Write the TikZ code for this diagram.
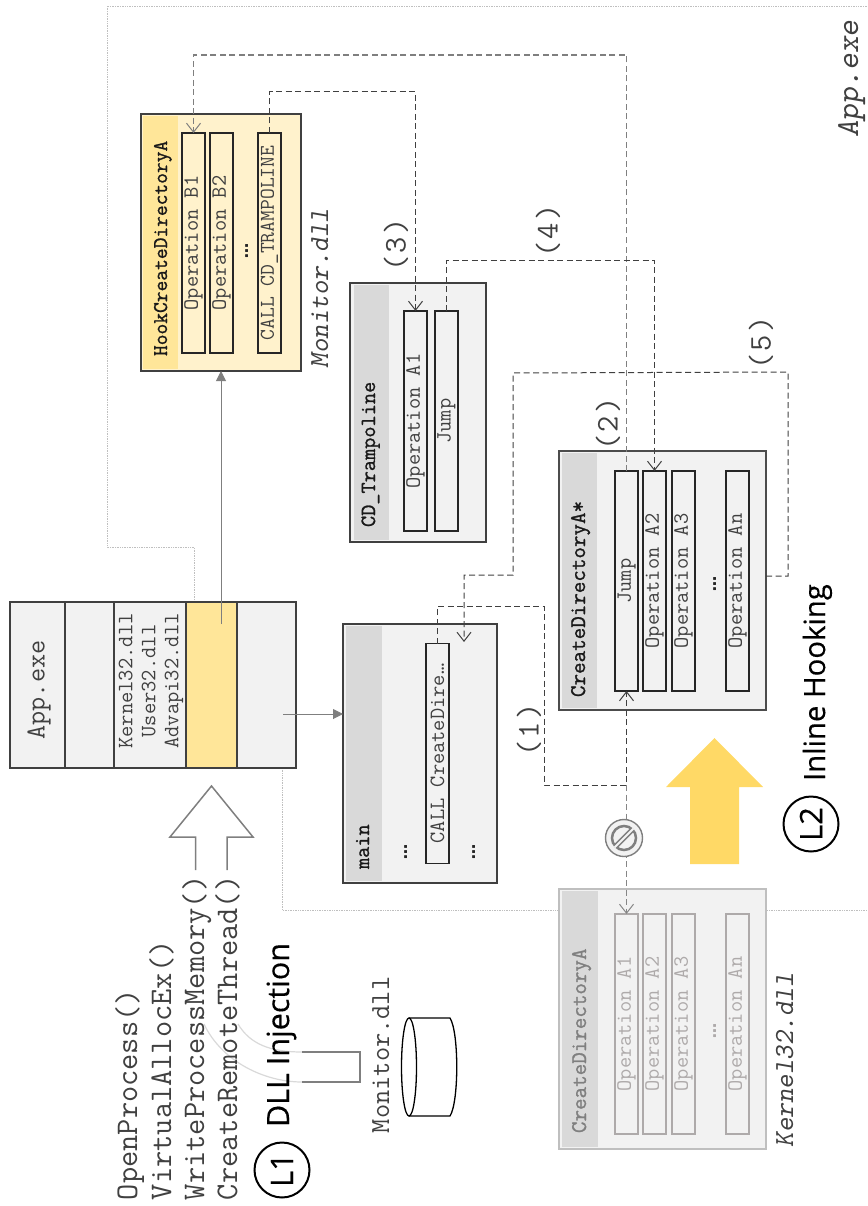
\documentclass[tikz,border=0pt]{standalone}
\usepackage{fontspec}
\usetikzlibrary{arrows.meta,calc}
\setmainfont{Open Sans}
\newfontfamily\headfont[FakeBold=0.35]{Open Sans}
\newfontfamily\titlemono[FakeBold=1.1]{Latin Modern Mono}
\definecolor{panelgrey}{HTML}{F2F2F2}
\definecolor{headgrey}{HTML}{D9D9D9}
\definecolor{edgedark}{HTML}{404040}
\definecolor{edgelight}{HTML}{BFBFBF}
\definecolor{oplight}{HTML}{AEAAAA}
\definecolor{yelloworig}{HTML}{FFE699}
\definecolor{yellowpale}{HTML}{FFF2CC}
\definecolor{yellowstrong}{HTML}{FFD966}
\definecolor{monotext}{HTML}{404040}
\definecolor{connectorgrey}{HTML}{7F7F7F}
\tikzset{
  x=1pt,y=-1pt,
  plain/.style={inner sep=0pt,outer sep=0pt},
  vtext/.style={plain,rotate=90},
  panel/.style={plain,rotate=90,draw=edgedark,line width=1.5pt,fill=panelgrey},
  panelfaint/.style={panel,draw=edgelight},
  headband/.style={plain,rotate=90,fill=headgrey},
  opbox/.style={plain,rotate=90,draw=black!85,line width=1.4pt,fill=panelgrey,minimum width=220pt,minimum height=23pt,text=monotext,font=\ttfamily\fontsize{21.8}{21.8}\selectfont},
  opfaint/.style={opbox,draw=oplight,text=oplight},
  segment/.style={plain,draw=edgedark,line width=1.4pt,fill=panelgrey},
  title/.style={vtext,anchor=base west,font=\titlemono\fontsize{21.7}{21.7}\selectfont,text=black!90},
  api/.style={vtext,anchor=base west,font=\ttfamily\fontsize{31.5}{31.5}\selectfont,text=edgedark},
  modname/.style={vtext,anchor=base west,font=\ttfamily\slshape\fontsize{27.6}{27.6}\selectfont,text=edgedark},
  steplabel/.style={vtext,font=\ttfamily\fontsize{31.5}{31.5}\selectfont,text=edgedark},
  heading/.style={vtext,anchor=base west,font=\headfont\fontsize{30.5}{30.5}\selectfont,text=black},
  badge/.style={plain,rotate=90,circle,draw=black,line width=2pt,minimum size=55pt,font=\headfont\fontsize{31}{31}\selectfont},
  dots/.style={vtext,font=\sffamily\bfseries\fontsize{22}{22}\selectfont,text=black!85},
  flow/.style={draw=edgedark,line width=1pt,dash pattern=on 6pt off 3.5pt},
  flowgrey/.style={draw=connectorgrey,line width=1.4pt,dash pattern=on 6pt off 3.5pt},
  flowfaint/.style={draw=edgelight!70!black,line width=1pt,dash pattern=on 6pt off 3.5pt},
  openhead/.style={-{Straight Barb[length=9pt,width=14pt,line width=1pt]}},
  feed/.style={draw=connectorgrey,line width=1pt,-{Triangle[length=10pt,width=10pt]}},
  boundary/.style={draw=edgelight,line width=.7pt,densely dotted},
}
\begin{document}
\begin{tikzpicture}
\path[use as bounding box] (0,0) rectangle (867,1206);

% process boundary
\draw[boundary] (867,6) -- (107,6) -- (107,547) -- (194,547) -- (194,602);
\draw[boundary] (282,768) -- (282,910) -- (867,910);

% App.exe image
\node[segment,minimum width=55pt,minimum height=166pt] (segA) at (37.5,685) {};
\node[segment,minimum width=49pt,minimum height=166pt] (segB) at (89.5,685) {};
\node[segment,minimum width=72pt,minimum height=166pt] (segC) at (150,685) {};
\node[segment,minimum width=51pt,minimum height=166pt,fill=yelloworig] (segD) at (211.5,685) {};
\node[segment,minimum width=59pt,minimum height=166pt] (segE) at (266.5,685) {};
\node[vtext,font=\ttfamily\fontsize{27.4}{27.4}\selectfont,text=edgedark] (apptext) at (39,690) {App.exe};
\node[vtext,align=center,font=\ttfamily\fontsize{21.9}{23}\selectfont,text=monotext] (imports) at (151,681) {Kernel32.dll\\User32.dll\\Advapi32.dll};

% main
\node[panel,minimum width=259pt,minimum height=154pt] (main) at (420,753.5) {};
\node[headband,minimum width=255pt,minimum height=36pt] (mainhead) at (364,753.5) {};
\node[title] (maintitle) at (369,869) {main};
\node[opbox] (callcd) at (437.5,753.5) {CALL CreateDire…};
\node[dots] (maindotsa) at (406,852) {…};
\node[dots] (maindotsb) at (474,852) {…};

% HookCreateDirectoryA
\node[panel,fill=yellowpale,minimum width=257pt,minimum height=160pt] (hook) at (221,242.5) {};
\node[headband,fill=yelloworig,minimum width=253pt,minimum height=35pt] (hookhead) at (160.5,242.5) {};
\node[title,font=\titlemono\fontsize{20.9}{20.9}\selectfont] (hooktitle) at (167,356) {HookCreateDirectoryA};
\node[opbox,fill=yellowpale] (opb1) at (193.5,243) {Operation B1};
\node[opbox,fill=yellowpale] (opb2) at (221.5,243) {Operation B2};
\node[opbox,fill=yellowpale,font=\ttfamily\fontsize{21}{21}\selectfont] (calltr) at (269.5,243) {CALL CD\_TRAMPOLINE};
\node[dots] (hookdots) at (247,251) {…};
\node[modname] (monname) at (328,368) {Monitor.dll};

% CD_Trampoline
\node[panel,minimum width=259pt,minimum height=136pt] (tramp) at (418,412.5) {};
\node[headband,minimum width=255pt,minimum height=35pt] (tramphead) at (371,412.5) {};
\node[title] (tramptitle) at (375,527) {CD\_Trampoline};
\node[opbox] (tropa) at (415.5,421) {Operation A1};
\node[opbox] (trjump) at (446.5,421) {Jump};

% CreateDirectoryA*
\node[panel,draw=black!70,minimum width=259pt,minimum height=207pt] (hooked) at (662.5,580.5) {};
\node[headband,minimum width=255pt,minimum height=35pt] (hookedhead) at (579.5,580.5) {};
\node[title,font=\titlemono\fontsize{22.4}{22.4}\selectfont] (hookedtitle) at (585,697) {CreateDirectoryA*};
\node[opbox] (hjump) at (626.5,581) {Jump};
\node[opbox] (ha2) at (654.5,581) {Operation A2};
\node[opbox] (ha3) at (683.5,581) {Operation A3};
\node[opbox] (han) at (737.5,581) {Operation An};
\node[dots] (hookeddots) at (715,584) {…};

% original CreateDirectoryA
\node[panelfaint,minimum width=260pt,minimum height=207pt] (orig) at (662.5,1019) {};
\node[headband,minimum width=256pt,minimum height=36pt] (orighead) at (580,1019) {};
\node[title,font=\titlemono\fontsize{22.4}{22.4}\selectfont,text=connectorgrey] (origtitle) at (586,1133) {CreateDirectoryA};
\node[opfaint] (oa1) at (626.5,1024) {Operation A1};
\node[opfaint] (oa2) at (654.5,1024) {Operation A2};
\node[opfaint] (oa3) at (683.5,1024) {Operation A3};
\node[opfaint] (oan) at (737.5,1024) {Operation An};
\node[dots,text=oplight] (origdots) at (715,1031) {…};
\node[modname] (kername) at (793,1147) {Kernel32.dll};

% image to functions
\coordinate (yellowstart) at (221,624);
\coordinate (imagestart) at (283,714);
\draw[feed] (yellowstart) -- (hook.west);
\draw[feed] (imagestart) -- (imagestart -| main.north);

% hollow injection arrow
\coordinate (hollowtip) at (211.5,786);
\draw[draw=connectorgrey,line width=1.5pt,line join=miter]
  (195.5,870) -- (195.5,837) -- (170,837) -- (hollowtip) -- (253,837) -- (227,837) -- (227,870);
\draw[draw=white,line width=1.5pt] (196.5,837) -- (226,837);

% yellow arrow
\fill[yellowstrong] (690,864) -- (690,787) -- (666,787) -- (714.5,738) -- (763,787) -- (739,787) -- (739,864) -- cycle;

% DLL to API calls
\coordinate (wpm) at (204,1024);
\coordinate (crt) at (238,1024);
\coordinate (brA) at (302,1052);
\coordinate (brB) at (302,1082);
\draw[headgrey,line width=1.2pt] (crt) .. controls (250,1044) and (270,1052) .. (brA);
\draw[headgrey,line width=1.2pt] (wpm) .. controls (222,1062) and (265,1082) .. (brB);

% API names
\node[api] (openp) at (137,1200) {OpenProcess()};
\node[api] (valloc) at (171,1200) {VirtualAllocEx()};
\node[api] (wprocm) at (204,1200) {WriteProcessMemory()};
\node[api] (crthr) at (237,1200) {CreateRemoteThread()};

% headings
\node[heading] (dllhead) at (289,1127) {DLL Injection};
\node[badge] (lone) at (282,1170) {L1};
\node[heading,font=\headfont\fontsize{29.3}{29.3}\selectfont] (inlinehead) at (825,781) {Inline Hooking};
\node[badge] (ltwo) at (811,824) {L2};

% Monitor.dll on disk
\node[modname,font=\ttfamily\fontsize{27.6}{27.6}\selectfont] (dskname) at (389,1133) {Monitor.dll};
\coordinate (cylA) at (409,1018);
\coordinate (cylB) at (409,1116);
\draw[connectorgrey,line width=1.5pt] (brA) -- (360,1052) -- (360,1082) -- (brB);
\draw[black,line width=1.3pt] (cylA) -- (450,1018) .. controls (459,1032) and (459,1102) .. (450,1116) -- (cylB);
\draw[black,line width=1.3pt] (409,1067) ellipse [x radius=7.5, y radius=49];

% flows
\coordinate (hookedout) at (766,576);
\coordinate (mainin) at (464,642);
\draw[flow,openhead] (callcd.east) -- (437.5,606) -- (544,606) -- (544,785) -- (626.5,785) -- (hjump.west);
\draw[flowfaint,openhead] (626.5,785) -- (oa1.east);
\draw[flowgrey,openhead] (hjump.east) -- (626.5,55) -- (193.5,55) -- (opb1.east);
\draw[flow,openhead] (calltr.east) -- (269.5,92) -- (415.5,92) -- (tropa.east);
\draw[flow,openhead] (trjump.east) -- (446.5,260) -- (654.5,260) -- (ha2.east);
\draw[flow,openhead] (hookedout) -- (788,576) -- (788,372) -- (513,373) -- (513,575) -- (464,575) -- (mainin);

% blocked icon
\node[plain,circle,draw=connectorgrey,line width=1.4pt,fill=panelgrey,minimum size=37pt] (blocked) at (624,838) {};
\draw[connectorgrey,line width=2.5pt] (blocked.center) circle [radius=12];
\draw[connectorgrey,line width=5pt] (615.5,846.5) -- (632.5,829.5);
\draw[panelgrey,line width=2pt] (614.5,847.5) -- (633.5,828.5);

% step labels
\node[steplabel] (s1) at (529,730) {(\kern2pt 1\kern2pt)};
\node[steplabel] (s2) at (608,424) {(\kern2pt 2\kern2pt)};
\node[steplabel] (s3) at (396,245) {(\kern2pt 3\kern2pt)};
\node[steplabel] (s4) at (548,231) {(\kern2pt 4\kern2pt)};
\node[steplabel] (s5) at (761,343) {(\kern2pt 5\kern2pt)};

% container name
\node[modname,font=\ttfamily\slshape\fontsize{32}{32}\selectfont] (appname) at (858,138) {App.exe};
\end{tikzpicture}
\end{document}
